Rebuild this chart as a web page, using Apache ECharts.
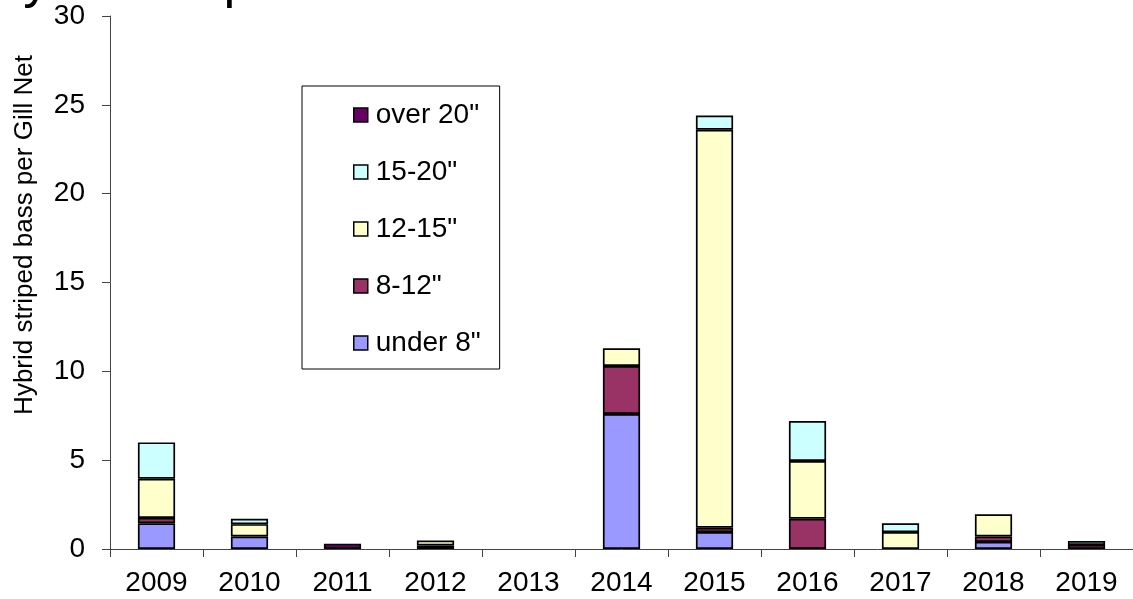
<!DOCTYPE html>
<html>
<head>
<meta charset="utf-8">
<script src="https://cdn.jsdelivr.net/npm/echarts@6/dist/echarts.min.js"></script>
<style>
html,body{margin:0;padding:0;background:#fff;}
#chart{width:1133px;height:599px;}
</style>
</head>
<body>
<div id="chart"></div>
<script>
var years = ['2009','2010','2011','2012','2013','2014','2015','2016','2017','2018','2019'];
var under8  = [1.45, 0.7, 0,   0,    0, 7.6, 0.95, 0,    0,    0.4,  0];
var s8to12  = [0.3,  0,   0,   0.2,  0, 2.7, 0.25, 1.7,  0,    0.3,  0.23];
var s12to15 = [2.2,  0.7, 0,   0.28, 0, 1.0, 22.4, 3.25, 0.95, 1.25, 0];
var s15to20 = [2.05, 0.3, 0,   0,    0, 0,   0.8,  2.25, 0.5,  0,    0.22];
var over20  = [0,    0,   0.3, 0,    0, 0,   0,    0,    0,    0,    0];
var seriesNames = ['under 8"', '8-12"', '12-15"', '15-20"', 'over 20"'];
var legendOrder = ['over 20"', '15-20"', '12-15"', '8-12"', 'under 8"'];
var yTicks = [0, 5, 10, 15, 20, 25, 30];
var titleText = 'Hybrid striped bass';
var yName = 'Hybrid striped bass per Gill Net';

var FONT = '"Liberation Sans", Arial, sans-serif';
var colors = ['#9999FF', '#993366', '#FFFFCC', '#CCFFFF', '#660066'];
var values = [under8, s8to12, s12to15, s15to20, over20];

function clean(arr){ return arr.map(function(v){ return v === 0 ? '-' : v; }); }

var series = values.map(function(arr, i){
  return {
    name: seriesNames[i],
    type: 'bar',
    stack: 'total',
    barWidth: '40%',
    data: clean(arr),
    itemStyle: { color: colors[i], borderColor: '#000', borderWidth: 1.7 },
    emphasis: { disabled: true }
  };
});

var chart = echarts.init(document.getElementById('chart'), null, {renderer: 'canvas'});
chart.setOption({
  animation: false,
  backgroundColor: '#fff',
  textStyle: { fontFamily: FONT, color: '#000' },
  grid: { left: 110, right: 0, top: 16, bottom: 50, containLabel: false },
  legend: {
    orient: 'vertical',
    left: 302, top: 86,
    data: legendOrder,
    padding: [14, 19, 11, 51],
    itemGap: 27,
    itemWidth: 14, itemHeight: 14,
    borderColor: '#000', borderWidth: 1,
    icon: 'rect',
    itemStyle: { borderColor: '#000', borderWidth: 1.5 },
    textStyle: { fontFamily: FONT, fontSize: 28, lineHeight: 30, color: '#000', padding: [0,0,0,3] },
    selectedMode: false
  },
  xAxis: {
    type: 'category',
    data: years,
    axisLine: { lineStyle: { color: '#444', width: 1 } },
    axisTick: { show: true, length: 8, lineStyle: { color: '#444' } },
    axisLabel: { fontFamily: FONT, fontSize: 28, color: '#000', margin: 20 },
    splitLine: { show: false }
  },
  yAxis: {
    type: 'value',
    min: yTicks[0], max: yTicks[yTicks.length-1], interval: 5,
    axisLine: { show: true, lineStyle: { color: '#444', width: 1 } },
    axisTick: { show: true, length: 8, lineStyle: { color: '#444' } },
    axisLabel: { fontFamily: FONT, fontSize: 28, color: '#000', margin: 25 },
    splitLine: { show: false }
  },
  graphic: [
    {
      type: 'text', x: 25, y: 235, rotation: Math.PI/2,
      style: { text: yName, fontFamily: FONT, fontSize: 26, fill: '#000', align: 'center', verticalAlign: 'middle' }
    },
    {
      type: 'text', x: -15, y: -18,
      style: { text: titleText, fontFamily: FONT, fontSize: 53, lineHeight: 53, fill: '#000', align: 'left', verticalAlign: 'middle' }
    }
  ],
  series: series
});
</script>
</body>
</html>
